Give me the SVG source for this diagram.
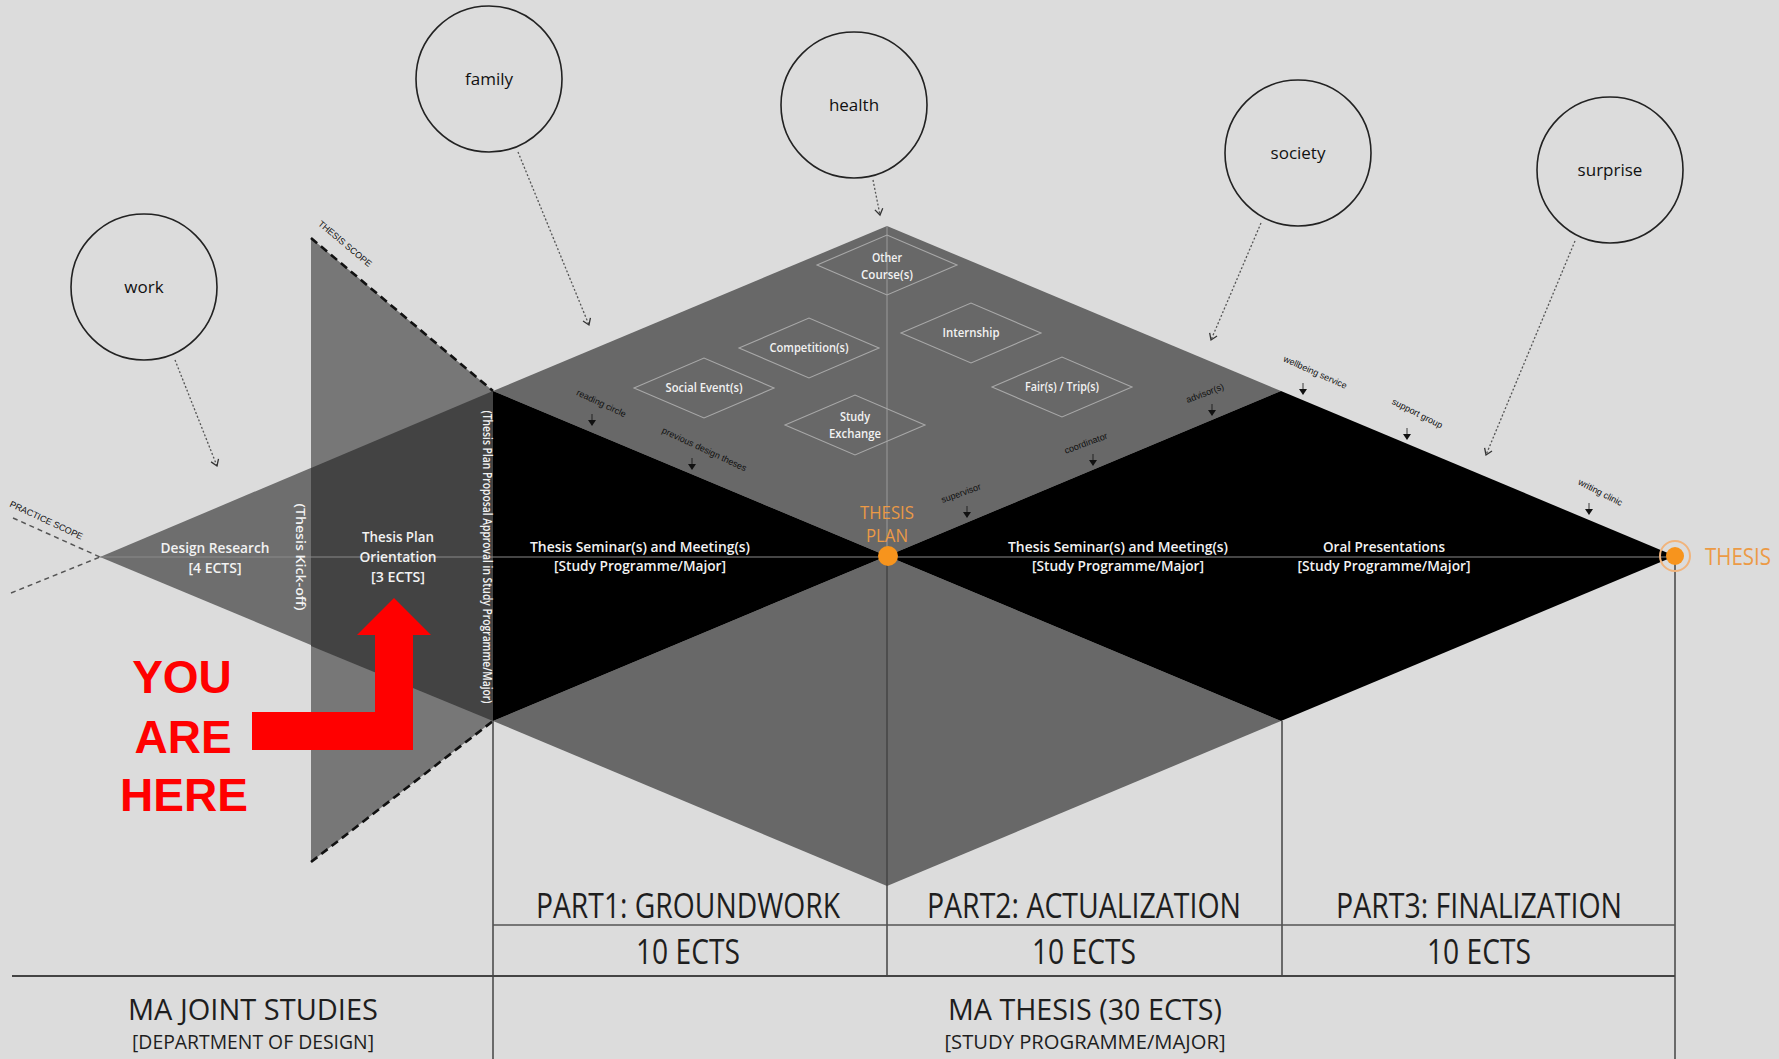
<svg xmlns="http://www.w3.org/2000/svg" xmlns:xlink="http://www.w3.org/1999/xlink" width="1779" height="1059" viewBox="0 0 1779 1059">
<style>
.circ{fill:none;stroke:#222;stroke-width:1.6}
.ctext{font-family:"Open Sans","DejaVu Sans",sans-serif;font-size:17px;fill:#111;text-anchor:middle}
.wt{font-family:"Open Sans","DejaVu Sans",sans-serif;font-weight:600;fill:#f2f2f2;text-anchor:middle}
.dia{fill:none;stroke:#a8a8a8;stroke-width:1.1}
.small{font-family:"Liberation Sans","DejaVu Sans",sans-serif;font-size:9px;fill:#111;text-anchor:middle}
.tbl{font-family:"Open Sans","DejaVu Sans",sans-serif;fill:#1e1e1e;text-anchor:middle}
.orange{font-family:"Open Sans","DejaVu Sans",sans-serif;fill:#ec9a45;text-anchor:middle}
.dotted{fill:none;stroke:#555;stroke-width:1.3;stroke-dasharray:2 2;marker-end:url(#chev)}
.tline{stroke:#444;stroke-width:1.5;fill:none}
.red{font-family:"Liberation Sans","Roboto",sans-serif;font-weight:bold;font-size:46px;fill:#ff0000;text-anchor:middle}
</style>
<defs>
<marker id="chev" viewBox="-8 -6 10 12" markerWidth="10" markerHeight="12" refX="0" refY="0" orient="auto" markerUnits="userSpaceOnUse">
<path d="M-6,-4 L0,0 L-6,4" fill="none" stroke="#333" stroke-width="1.3"/>
</marker>
<g id="pin">
<line x1="0" y1="-12" x2="0" y2="-5" stroke="#111" stroke-width="0.8"/>
<path d="M-4,-6 L4,-6 L0,0 Z" fill="#111"/>
</g>
</defs>
<rect width="1779" height="1059" fill="#dcdcdc"/>

<g id="body">
<polygon points="100,557 493,391 493,721" fill="#6e6e6e"/>
<polygon points="311,238 493,391 493,721 311,862" fill="#777777"/>
<polygon points="311,468 493,391 493,721 311,646" fill="#434343"/>
<polygon points="493,391 887,226 1281,391 887,556" fill="#686868"/>
<polygon points="493,721 887,556 1281,721 887,886" fill="#686868"/>
<polygon points="493,391 887,556 493,721" fill="#000"/>
<polygon points="887,556 1281,391 1675,556 1281,721" fill="#000"/>
<line x1="100" y1="557" x2="1675" y2="557" stroke="#8a8a8a" stroke-width="1"/>
<line x1="887" y1="226" x2="887" y2="556" stroke="#9a9a9a" stroke-width="1"/>
<line x1="311" y1="238" x2="493" y2="391" stroke="#111" stroke-width="2.6" stroke-dasharray="8 5"/>
<line x1="311" y1="862" x2="493" y2="721" stroke="#111" stroke-width="2.6" stroke-dasharray="8 5"/>
<line x1="13" y1="518" x2="100" y2="557" stroke="#555" stroke-width="1.5" stroke-dasharray="5 4"/>
<line x1="11" y1="593" x2="100" y2="557" stroke="#555" stroke-width="1.5" stroke-dasharray="5 4"/>
<text class="small" font-size="8" transform="translate(343,246) rotate(40)">THESIS SCOPE</text>
<text class="small" font-size="8" transform="translate(45,523) rotate(25)">PRACTICE SCOPE</text>
</g>

<g id="table">
<line class="tline" x1="493" y1="721" x2="493" y2="1059"/>
<line class="tline" x1="887" y1="556" x2="887" y2="976"/>
<line class="tline" x1="1282" y1="721" x2="1282" y2="976"/>
<line class="tline" x1="1675" y1="556" x2="1675" y2="1059"/>
<line x1="493" y1="925" x2="1675" y2="925" stroke="#555" stroke-width="1.3"/>
<line x1="12" y1="976" x2="1675" y2="976" stroke="#444" stroke-width="2"/>
<text class="tbl" x="688" y="918" font-size="34" textLength="304" lengthAdjust="spacingAndGlyphs">PART1: GROUNDWORK</text>
<text class="tbl" x="1084" y="918" font-size="34" textLength="314" lengthAdjust="spacingAndGlyphs">PART2: ACTUALIZATION</text>
<text class="tbl" x="1479" y="918" font-size="34" textLength="286" lengthAdjust="spacingAndGlyphs">PART3: FINALIZATION</text>
<text class="tbl" x="688" y="964" font-size="34" textLength="104" lengthAdjust="spacingAndGlyphs">10 ECTS</text>
<text class="tbl" x="1084" y="964" font-size="34" textLength="104" lengthAdjust="spacingAndGlyphs">10 ECTS</text>
<text class="tbl" x="1479" y="964" font-size="34" textLength="104" lengthAdjust="spacingAndGlyphs">10 ECTS</text>
<text class="tbl" x="253" y="1020" font-size="30" textLength="250" lengthAdjust="spacingAndGlyphs">MA JOINT STUDIES</text>
<text class="tbl" x="253" y="1049" font-size="20" textLength="242" lengthAdjust="spacingAndGlyphs">[DEPARTMENT OF DESIGN]</text>
<text class="tbl" x="1085" y="1020" font-size="30" textLength="274" lengthAdjust="spacingAndGlyphs">MA THESIS (30 ECTS)</text>
<text class="tbl" x="1085" y="1049" font-size="20" textLength="281" lengthAdjust="spacingAndGlyphs">[STUDY PROGRAMME/MAJOR]</text>
</g>

<g id="connectors">
<line class="dotted" x1="175" y1="360" x2="217" y2="466"/>
<line class="dotted" x1="518" y1="152" x2="589" y2="325"/>
<line class="dotted" x1="873" y1="180" x2="880" y2="215"/>
<line class="dotted" x1="1261" y1="223" x2="1211" y2="340"/>
<line class="dotted" x1="1575" y1="241" x2="1486" y2="455"/>
</g>

<g id="node-work"><circle class="circ" cx="144" cy="287" r="73"/><text class="ctext" x="144" y="293">work</text></g>
<g id="node-family"><circle class="circ" cx="489" cy="79" r="73"/><text class="ctext" x="489" y="85">family</text></g>
<g id="node-health"><circle class="circ" cx="854" cy="105" r="73"/><text class="ctext" x="854" y="111">health</text></g>
<g id="node-society"><circle class="circ" cx="1298" cy="153" r="73"/><text class="ctext" x="1298" y="159">society</text></g>
<g id="node-surprise"><circle class="circ" cx="1610" cy="170" r="73"/><text class="ctext" x="1610" y="176">surprise</text></g>

<g id="node-other-courses"><polygon class="dia" points="817,265 887,235 957,265 887,295"/><text class="wt" x="887" y="262" font-size="12" textLength="30" lengthAdjust="spacingAndGlyphs">Other</text><text class="wt" x="887" y="279" font-size="12" textLength="52" lengthAdjust="spacingAndGlyphs">Course(s)</text></g>
<g id="node-competitions"><polygon class="dia" points="739,348 809,318 879,348 809,378"/><text class="wt" x="809" y="352" font-size="12" textLength="79" lengthAdjust="spacingAndGlyphs">Competition(s)</text></g>
<g id="node-internship"><polygon class="dia" points="901,333 971,303 1041,333 971,363"/><text class="wt" x="971" y="337" font-size="12" textLength="57" lengthAdjust="spacingAndGlyphs">Internship</text></g>
<g id="node-social-events"><polygon class="dia" points="634,388 704,358 774,388 704,418"/><text class="wt" x="704" y="392" font-size="12" textLength="77" lengthAdjust="spacingAndGlyphs">Social Event(s)</text></g>
<g id="node-study-exchange"><polygon class="dia" points="785,425 855,395 925,425 855,455"/><text class="wt" x="855" y="421" font-size="12" textLength="30" lengthAdjust="spacingAndGlyphs">Study</text><text class="wt" x="855" y="438" font-size="12" textLength="52" lengthAdjust="spacingAndGlyphs">Exchange</text></g>
<g id="node-fairs-trips"><polygon class="dia" points="992,387 1062,357 1132,387 1062,417"/><text class="wt" x="1062" y="391" font-size="12" textLength="74" lengthAdjust="spacingAndGlyphs">Fair(s) / Trip(s)</text></g>

<g id="node-design-research"><text class="wt" x="215" y="553" font-size="14" textLength="109" lengthAdjust="spacingAndGlyphs">Design Research</text><text class="wt" x="215" y="573" font-size="14" textLength="53" lengthAdjust="spacingAndGlyphs">[4 ECTS]</text></g>
<g id="node-kickoff"><text class="wt" font-size="13" transform="translate(300,557) rotate(90)" dy="4" textLength="107" lengthAdjust="spacingAndGlyphs">(Thesis Kick-off)</text></g>
<g id="node-plan-orientation"><text class="wt" x="398" y="542" font-size="14" textLength="72" lengthAdjust="spacingAndGlyphs">Thesis Plan</text><text class="wt" x="398" y="562" font-size="14" textLength="77" lengthAdjust="spacingAndGlyphs">Orientation</text><text class="wt" x="398" y="582" font-size="14" textLength="54" lengthAdjust="spacingAndGlyphs">[3 ECTS]</text></g>
<g id="node-approval"><text class="wt" font-size="12" transform="translate(487,557) rotate(90)" dy="4" textLength="293" lengthAdjust="spacingAndGlyphs">(Thesis Plan Proposal Approval in Study Programme/Major)</text></g>
<g id="node-seminar1"><text class="wt" x="640" y="552" font-size="15" textLength="220" lengthAdjust="spacingAndGlyphs">Thesis Seminar(s) and Meeting(s)</text><text class="wt" x="640" y="571" font-size="15" textLength="172" lengthAdjust="spacingAndGlyphs">[Study Programme/Major]</text></g>
<g id="node-seminar2"><text class="wt" x="1118" y="552" font-size="15" textLength="220" lengthAdjust="spacingAndGlyphs">Thesis Seminar(s) and Meeting(s)</text><text class="wt" x="1118" y="571" font-size="15" textLength="172" lengthAdjust="spacingAndGlyphs">[Study Programme/Major]</text></g>
<g id="node-oral"><text class="wt" x="1384" y="552" font-size="15" textLength="122" lengthAdjust="spacingAndGlyphs">Oral Presentations</text><text class="wt" x="1384" y="571" font-size="15" textLength="173" lengthAdjust="spacingAndGlyphs">[Study Programme/Major]</text></g>

<g id="node-thesis-plan"><circle cx="888" cy="556" r="10" fill="#f7941d"/><text class="orange" x="887" y="519" font-size="18" textLength="54" lengthAdjust="spacingAndGlyphs">THESIS</text><text class="orange" x="887" y="542" font-size="18" textLength="42" lengthAdjust="spacingAndGlyphs">PLAN</text></g>
<g id="node-thesis"><circle cx="1675" cy="556" r="15" fill="none" stroke="#f1b47c" stroke-width="2"/><circle cx="1675" cy="556" r="9" fill="#f7941d"/><text class="orange" x="1738" y="565" font-size="24" textLength="66" lengthAdjust="spacingAndGlyphs">THESIS</text></g>

<g id="resource-labels">
<text class="small" transform="translate(600,406) rotate(25)">reading circle</text><use xlink:href="#pin" x="592" y="426"/>
<text class="small" transform="translate(703,452) rotate(25)">previous design theses</text><use xlink:href="#pin" x="692" y="470"/>
<text class="small" transform="translate(962,496) rotate(-20)">supervisor</text><use xlink:href="#pin" x="967" y="518"/>
<text class="small" transform="translate(1087,446) rotate(-20)">coordinator</text><use xlink:href="#pin" x="1093" y="466"/>
<text class="small" transform="translate(1206,396) rotate(-21)">advisor(s)</text><use xlink:href="#pin" x="1212" y="416"/>
<text class="small" transform="translate(1314,375) rotate(24)">wellbeing service</text><use xlink:href="#pin" x="1303" y="395"/>
<text class="small" transform="translate(1416,416) rotate(27)">support group</text><use xlink:href="#pin" x="1407" y="440"/>
<text class="small" transform="translate(1599,495) rotate(27)">writing clinic</text><use xlink:href="#pin" x="1589" y="515"/>
</g>

<g id="you-are-here">
<polygon points="252,712 375,712 375,635 357,635 394,598 431,635 413,635 413,750 252,750" fill="#ff0000"/>
<text class="red" x="182" y="693">YOU</text>
<text class="red" x="183" y="753">ARE</text>
<text class="red" x="184" y="811">HERE</text>
</g>
</svg>
